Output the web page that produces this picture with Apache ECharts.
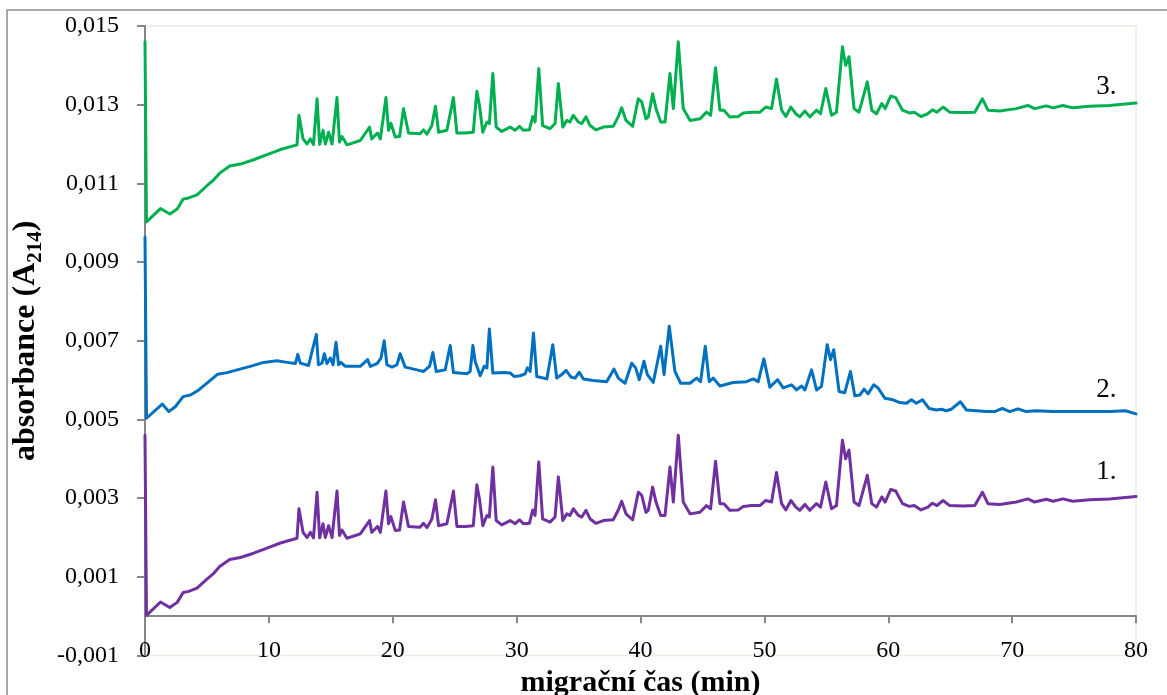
<!DOCTYPE html>
<html>
<head>
<meta charset="utf-8">
<script src="https://cdn.jsdelivr.net/npm/echarts@6/dist/echarts.min.js"></script>
<style>
html,body{margin:0;padding:0;background:#fff;}
#chart{width:1167px;height:695px;}
</style>
</head>
<body>
<div id="chart"></div>
<script>
// x: migration time (min), y: absorbance A214
const xTicks = [0, 10, 20, 30, 40, 50, 60, 70, 80];
const seriesNames = ['1.', '2.', '3.'];

const trace1 = [
[0,0.00460],[0.12,0.00002],[1.25,0.00036],[2.0,0.00022],[2.6,0.00035],[3.08,0.00060],[3.53,0.00063],[4.2,0.00071],
[5.0,0.00094],[5.55,0.00109],[6.03,0.00126],[6.84,0.00144],[7.7,0.00149],[8.77,0.00160],[9.85,0.00173],[10.93,0.00186],
[12.27,0.00198],[12.43,0.00273],[12.76,0.00213],[13.08,0.00200],[13.35,0.00213],[13.6,0.00199],[13.89,0.00315],[14.1,0.00199],
[14.37,0.00235],[14.56,0.00200],[14.82,0.00230],[15.1,0.00200],[15.5,0.00318],[15.7,0.00205],[15.9,0.00219],[16.3,0.00198],
[17.38,0.00209],[18.13,0.00243],[18.3,0.00213],[18.77,0.00228],[19.0,0.00213],[19.45,0.00318],[19.66,0.00235],[19.85,0.00253],
[20.2,0.00218],[20.55,0.00219],[20.87,0.00290],[21.27,0.00228],[22.2,0.00226],[22.48,0.00236],[22.76,0.00225],[23.16,0.00247],
[23.45,0.00296],[23.7,0.00230],[24.37,0.00235],[24.9,0.00318],[25.18,0.00228],[25.85,0.00228],[26.5,0.00230],[26.79,0.00334],
[27.0,0.00298],[27.27,0.00230],[27.6,0.00256],[27.8,0.00252],[28.08,0.00379],[28.35,0.00243],[28.8,0.00232],[29.48,0.00243],
[29.88,0.00235],[30.23,0.00245],[30.55,0.00235],[31.03,0.00236],[31.3,0.00270],[31.49,0.00256],[31.79,0.00392],[32.1,0.00247],
[32.7,0.00239],[33.1,0.00252],[33.37,0.00354],[33.73,0.00243],[34.05,0.00260],[34.3,0.00256],[34.58,0.00273],[34.98,0.00256],
[35.26,0.00252],[35.6,0.00269],[35.93,0.00247],[36.4,0.00236],[37.0,0.00243],[37.8,0.00245],[38.2,0.00269],[38.48,0.00292],
[38.83,0.00260],[39.37,0.00245],[39.82,0.00315],[40.1,0.00307],[40.44,0.00264],[40.63,0.00269],[40.98,0.00328],[41.25,0.00290],
[41.63,0.00256],[41.98,0.00256],[42.38,0.00379],[42.65,0.00290],[43.05,0.00460],[43.45,0.00290],[44.0,0.00260],[44.8,0.00264],
[45.33,0.00281],[45.66,0.00273],[46.06,0.00394],[46.41,0.00286],[46.73,0.00286],[47.2,0.00269],[47.89,0.00270],[48.3,0.00279],
[48.97,0.00281],[49.64,0.00281],[50.12,0.00294],[50.58,0.00290],[50.98,0.00365],[51.39,0.00286],[51.73,0.00270],[52.14,0.00294],
[52.54,0.00277],[52.86,0.00269],[53.27,0.00284],[53.67,0.00269],[54.2,0.00286],[54.53,0.00277],[54.96,0.00341],[55.42,0.00273],
[55.82,0.00281],[56.3,0.00447],[56.56,0.00400],[56.83,0.00422],[57.24,0.00290],[57.64,0.00281],[58.31,0.00358],[58.67,0.00286],
[59.05,0.00277],[59.48,0.00303],[59.75,0.00290],[60.2,0.00322],[60.6,0.00318],[61.15,0.00286],[61.69,0.00279],[62.1,0.00281],
[62.64,0.00270],[63.2,0.00277],[63.56,0.00287],[63.93,0.00281],[64.42,0.00294],[64.96,0.00281],[66.03,0.00280],[66.98,0.00281],
[67.6,0.00315],[68.05,0.00286],[69.0,0.00284],[70.34,0.00290],[71.27,0.00298],[71.81,0.00290],[72.76,0.00297],[73.3,0.00292],
[74.1,0.00298],[74.9,0.00292],[76.25,0.00296],[77.86,0.00298],[78.94,0.00301],[80.0,0.00304]
];

const trace2 = [
[0,0.00963],[0.12,0.00503],[1.39,0.00539],[1.92,0.00520],[2.46,0.00533],[3.08,0.00558],[3.67,0.00562],[4.34,0.00575],
[5.15,0.00596],[5.87,0.00615],[6.63,0.00619],[7.44,0.00626],[8.5,0.00635],[9.58,0.00645],[10.65,0.00649],[11.47,0.00645],
[12.14,0.00642],[12.33,0.00665],[12.54,0.00643],[13.2,0.00637],[13.83,0.00716],[14.0,0.00639],[14.29,0.00643],[14.48,0.00667],
[14.69,0.00642],[14.96,0.00656],[15.18,0.00639],[15.42,0.00696],[15.63,0.00639],[15.82,0.00645],[16.17,0.00635],[17.38,0.00635],
[17.97,0.00652],[18.19,0.00635],[18.73,0.00642],[19.05,0.00656],[19.31,0.00700],[19.53,0.00639],[19.94,0.00633],[20.34,0.00639],
[20.6,0.00667],[21.0,0.00633],[21.95,0.00626],[22.48,0.00622],[22.97,0.00635],[23.24,0.00670],[23.51,0.00622],[24.23,0.00626],
[24.64,0.00688],[24.9,0.00619],[25.98,0.00616],[26.25,0.00622],[26.47,0.00688],[26.65,0.00648],[27.06,0.00611],[27.38,0.00635],
[27.6,0.00631],[27.8,0.00730],[28.08,0.00618],[28.94,0.00619],[29.48,0.00618],[29.82,0.00609],[30.28,0.00611],[30.69,0.00616],
[30.87,0.00631],[31.09,0.00622],[31.36,0.00720],[31.63,0.00609],[32.44,0.00603],[32.92,0.00690],[33.24,0.00605],[33.64,0.00614],
[33.99,0.00625],[34.37,0.00608],[34.72,0.00605],[35.06,0.00620],[35.39,0.00603],[36.19,0.00599],[37.27,0.00596],[37.86,0.00628],
[38.21,0.00605],[38.75,0.00592],[39.29,0.00643],[39.61,0.00631],[39.9,0.00601],[40.28,0.00648],[40.55,0.00614],[41.03,0.00594],
[41.63,0.00686],[41.9,0.00614],[42.32,0.00737],[42.78,0.00622],[43.24,0.00592],[43.99,0.00592],[44.53,0.00605],[44.85,0.00596],
[45.23,0.00686],[45.55,0.00596],[45.87,0.00605],[46.41,0.00585],[47.48,0.00594],[48.56,0.00596],[49.1,0.00603],[49.5,0.00596],
[49.96,0.00654],[50.44,0.00582],[51.06,0.00601],[51.52,0.00580],[52.19,0.00588],[52.6,0.00575],[53.0,0.00585],[53.27,0.00575],
[53.81,0.00626],[54.21,0.00575],[54.61,0.00584],[55.07,0.00690],[55.34,0.00652],[55.6,0.00677],[56.03,0.00571],[56.49,0.00568],
[56.95,0.00622],[57.3,0.00560],[57.7,0.00562],[58.05,0.00577],[58.37,0.00565],[58.83,0.00588],[59.18,0.00580],[59.72,0.00554],
[60.39,0.00550],[60.93,0.00543],[61.47,0.00541],[61.87,0.00550],[62.27,0.00541],[62.76,0.00550],[63.29,0.00528],[63.89,0.00524],
[64.29,0.00526],[64.69,0.00522],[65.1,0.00526],[65.82,0.00545],[66.31,0.00524],[67.92,0.00520],[68.59,0.00520],[69.21,0.00528],
[69.8,0.00520],[70.47,0.00527],[71.14,0.00520],[71.95,0.00522],[73.3,0.00520],[75.7,0.00520],[77.86,0.00520],[79.15,0.00522],
[80.0,0.00514]
];

const trace3 = [
[0,0.01460],[0.12,0.01002],[1.25,0.01036],[2.0,0.01022],[2.6,0.01035],[3.08,0.01060],[3.53,0.01063],[4.2,0.01071],
[5.0,0.01094],[5.55,0.01109],[6.03,0.01126],[6.84,0.01144],[7.7,0.01149],[8.77,0.01160],[9.85,0.01173],[10.93,0.01186],
[12.27,0.01198],[12.43,0.01273],[12.76,0.01213],[13.08,0.01200],[13.35,0.01213],[13.6,0.01199],[13.89,0.01315],[14.1,0.01199],
[14.37,0.01235],[14.56,0.01200],[14.82,0.01230],[15.1,0.01200],[15.5,0.01318],[15.7,0.01205],[15.9,0.01219],[16.3,0.01198],
[17.38,0.01209],[18.13,0.01243],[18.3,0.01213],[18.77,0.01228],[19.0,0.01213],[19.45,0.01318],[19.66,0.01235],[19.85,0.01253],
[20.2,0.01218],[20.55,0.01219],[20.87,0.01290],[21.27,0.01228],[22.2,0.01226],[22.48,0.01236],[22.76,0.01225],[23.16,0.01247],
[23.45,0.01296],[23.7,0.01230],[24.37,0.01235],[24.9,0.01318],[25.18,0.01228],[25.85,0.01228],[26.5,0.01230],[26.79,0.01334],
[27.0,0.01298],[27.27,0.01230],[27.6,0.01256],[27.8,0.01252],[28.08,0.01379],[28.35,0.01243],[28.8,0.01232],[29.48,0.01243],
[29.88,0.01235],[30.23,0.01245],[30.55,0.01235],[31.03,0.01236],[31.3,0.01270],[31.49,0.01256],[31.79,0.01392],[32.1,0.01247],
[32.7,0.01239],[33.1,0.01252],[33.37,0.01354],[33.73,0.01243],[34.05,0.01260],[34.3,0.01256],[34.58,0.01273],[34.98,0.01256],
[35.26,0.01252],[35.6,0.01269],[35.93,0.01247],[36.4,0.01236],[37.0,0.01243],[37.8,0.01245],[38.2,0.01269],[38.48,0.01292],
[38.83,0.01260],[39.37,0.01245],[39.82,0.01315],[40.1,0.01307],[40.44,0.01264],[40.63,0.01269],[40.98,0.01328],[41.25,0.01290],
[41.63,0.01256],[41.98,0.01256],[42.38,0.01379],[42.65,0.01290],[43.05,0.01460],[43.45,0.01290],[44.0,0.01260],[44.8,0.01264],
[45.33,0.01281],[45.66,0.01273],[46.06,0.01394],[46.41,0.01286],[46.73,0.01286],[47.2,0.01269],[47.89,0.01270],[48.3,0.01279],
[48.97,0.01281],[49.64,0.01281],[50.12,0.01294],[50.58,0.01290],[50.98,0.01365],[51.39,0.01286],[51.73,0.01270],[52.14,0.01294],
[52.54,0.01277],[52.86,0.01269],[53.27,0.01284],[53.67,0.01269],[54.2,0.01286],[54.53,0.01277],[54.96,0.01341],[55.42,0.01273],
[55.82,0.01281],[56.3,0.01447],[56.56,0.01400],[56.83,0.01422],[57.24,0.01290],[57.64,0.01281],[58.31,0.01358],[58.67,0.01286],
[59.05,0.01277],[59.48,0.01303],[59.75,0.01290],[60.2,0.01322],[60.6,0.01318],[61.15,0.01286],[61.69,0.01279],[62.1,0.01281],
[62.64,0.01270],[63.2,0.01277],[63.56,0.01287],[63.93,0.01281],[64.42,0.01294],[64.96,0.01281],[66.03,0.01280],[66.98,0.01281],
[67.6,0.01315],[68.05,0.01286],[69.0,0.01284],[70.34,0.01290],[71.27,0.01298],[71.81,0.01290],[72.76,0.01297],[73.3,0.01292],
[74.1,0.01298],[74.9,0.01292],[76.25,0.01296],[77.86,0.01298],[78.94,0.01301],[80.0,0.01304]
];

// trace label anchor points [time, absorbance]
const labelAnchors = [[77.6, 0.00367], [77.6, 0.00575], [77.6, 0.01345]];
const colors = ['#7030A0', '#0070C0', '#00B050'];

const FONT = '"Liberation Serif", "Times New Roman", serif';
const chart = echarts.init(document.getElementById('chart'), null, {renderer: 'canvas'});

const Y_MIN = -0.001, Y_MAX = 0.015;
const GRID = {left: 145, right: 31, top: 26, bottom: 39.5};
const gridH = 695 - GRID.top - GRID.bottom;
// x axis crosses the value axis at zero: shift it up from the grid bottom
const zeroOffset = -gridH * (0 - Y_MIN) / (Y_MAX - Y_MIN);

function mkSeries(name, data, color, anchor) {
  return {
    name: name,
    type: 'line',
    data: data,
    showSymbol: false,
    symbol: 'none',
    smooth: false,
    lineStyle: {color: color, width: 3, join: 'round', cap: 'round'},
    animation: false,
    z: 3,
    markPoint: {
      symbol: 'circle',
      symbolSize: 1,
      itemStyle: {color: 'rgba(0,0,0,0)'},
      label: {show: true, formatter: name, color: '#000', fontFamily: FONT, fontSize: 27, position: 'inside'},
      data: [{coord: anchor}],
      animation: false
    }
  };
}

const option = {
  backgroundColor: '#fff',
  animation: false,
  graphic: [{
    type: 'rect', z: -10, silent: true,
    shape: {x: 7, y: 10, width: 1300, height: 1000},
    style: {fill: 'none', stroke: '#8c8c8c', lineWidth: 1.5}
  }],
  grid: Object.assign({show: true, borderColor: '#EEECE1', borderWidth: 1.5, backgroundColor: 'transparent',
    containLabel: false, outerBoundsMode: 'none'}, GRID),
  xAxis: {
    type: 'value', min: 0, max: 80, interval: 10, position: 'bottom', offset: zeroOffset,
    name: 'migrační čas (min)', nameLocation: 'middle', nameGap: 45,
    nameTextStyle: {fontFamily: FONT, fontSize: 30, fontWeight: 'bold', color: '#000'},
    axisLine: {show: true, onZero: false, lineStyle: {color: '#868686', width: 2}},
    axisTick: {show: true, length: 7, lineStyle: {color: '#868686', width: 2}},
    axisLabel: {fontFamily: FONT, fontSize: 24, color: '#000', margin: 23,
      formatter: function (v) { return xTicks.indexOf(v) >= 0 ? String(v) : ''; }},
    splitLine: {show: false}
  },
  yAxis: {
    type: 'value', min: Y_MIN, max: Y_MAX, interval: 0.002,
    name: '{b|absorbance (A}{s|214}{b|)}', nameLocation: 'middle', nameGap: 97, nameRotate: 90,
    nameTextStyle: {
      fontFamily: FONT, fontWeight: 'bold', color: '#000',
      rich: {
        b: {fontFamily: FONT, fontSize: 32, fontWeight: 'bold', color: '#000', lineHeight: 36, verticalAlign: 'bottom'},
        s: {fontFamily: FONT, fontSize: 21, fontWeight: 'bold', color: '#000', lineHeight: 21, verticalAlign: 'bottom', padding: [0, 0, -4, 0]}
      }
    },
    axisLine: {show: true, onZero: false, lineStyle: {color: '#868686', width: 2}},
    axisTick: {show: true, length: 8, lineStyle: {color: '#868686', width: 2}},
    axisLabel: {fontFamily: FONT, fontSize: 24, color: '#000', margin: 26,
      formatter: function (v) { return v.toFixed(3).replace('.', ','); }},
    splitLine: {show: false}
  },
  series: [
    mkSeries(seriesNames[0], trace1, colors[0], labelAnchors[0]),
    mkSeries(seriesNames[1], trace2, colors[1], labelAnchors[1]),
    mkSeries(seriesNames[2], trace3, colors[2], labelAnchors[2])
  ]
};
chart.setOption(option);
</script>
</body>
</html>
